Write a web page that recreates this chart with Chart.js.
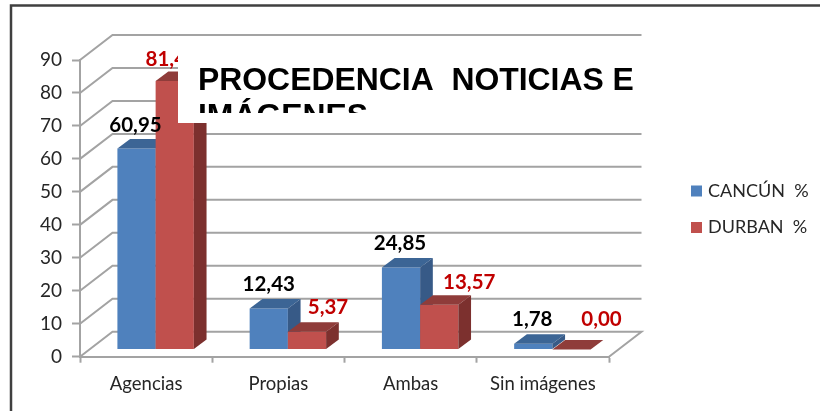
<!DOCTYPE html>
<html>
<head>
<meta charset="utf-8">
<title>Procedencia noticias e imágenes</title>
<script src="https://cdn.jsdelivr.net/npm/chart.js@4"></script>
<style>
html, body { margin: 0; background: #fff; }
#wrap { width: 820px; height: 411px; }
</style>
</head>
<body>
<div id="wrap"><canvas id="chart" width="820" height="411"></canvas></div>
<script>
const categories = ['Agencias', 'Propias', 'Ambas', 'Sin imágenes'];
const cancun = [60.95, 12.43, 24.85, 1.78];
const durban = [81.47, 5.37, 13.57, 0.00];
const titleLines = ['PROCEDENCIA  NOTICIAS E', 'IMÁGENES'];
const yTicks = [0, 10, 20, 30, 40, 50, 60, 70, 80, 90];

// hand nudges of the value labels, as in the original
const labelNudge = [
    [[-1, 1], [0, 0], [-1, 0], [-1, 0]],
    [[-3, 2], [21, 0], [30, 2], [30, -6]]
];

const FONT = 'Lato, "Open Sans", sans-serif';
const GRID = '#a3a3a3';
const DX = 9.5, DY = -7.2;      // bars stand this far behind the front axis
const SIDE_X = 12.7, SIDE_Y = -9.5;
const shades = [
    { top: '#3c6595', side: '#375a87' },
    { top: '#8f3c3a', side: '#7c302e' }
];

function poly(ctx, pts, fill) {
    ctx.beginPath();
    pts.forEach((p, i) => i ? ctx.lineTo(p[0], p[1]) : ctx.moveTo(p[0], p[1]));
    ctx.closePath();
    ctx.fillStyle = fill;
    ctx.fill();
}

const frame3d = {
    id: 'frame3d',
    afterLayout(chart) {
        // legend sits out in the right margin
        const l = chart.legend;
        l.left = 675.4;
        l.right = l.left + l.width;
        l.top = 163.4;
        l.bottom = l.top + l.height;
    },
    beforeDatasetsDraw(chart) {
        const { ctx, scales: { x, y } } = chart;
        const depthX = 32.5, depthY = -25;
        const left = x.left, right = x.right;
        ctx.save();
        ctx.strokeStyle = GRID;
        ctx.lineWidth = 2;
        yTicks.forEach(v => {
            const py = y.getPixelForValue(v);
            ctx.beginPath();
            ctx.moveTo(left, py);
            ctx.lineTo(left + depthX, py + depthY);
            ctx.lineTo(right + depthX, py + depthY);
            if (v === 0) ctx.lineTo(right, py);
            ctx.stroke();
        });
        ctx.restore();
        // left series first so the right bar sits over its side face
        chart.data.datasets.forEach((ds, i) => {
            const meta = chart.getDatasetMeta(i);
            const c = shades[i];
            ctx.save();
            ctx.translate(DX, DY);
            meta.controller.draw();
            meta.data.forEach(b => {
                const l = b.x - b.width / 2, r = b.x + b.width / 2;
                poly(ctx, [[l, b.y], [l + SIDE_X, b.y + SIDE_Y], [r + SIDE_X, b.y + SIDE_Y], [r, b.y]], c.top);
                poly(ctx, [[r, b.y], [r + SIDE_X, b.y + SIDE_Y], [r + SIDE_X, b.base + SIDE_Y], [r, b.base]], c.side);
            });
            ctx.restore();
        });
    },
    beforeDatasetDraw() {
        return false;
    },
    afterDatasetsDraw(chart) {
        const ctx = chart.ctx;
        ctx.save();
        ctx.font = 'bold 20.5px ' + FONT;
        ctx.textAlign = 'center';
        ctx.textBaseline = 'middle';
        chart.data.datasets.forEach((ds, i) => {
            ctx.fillStyle = i ? '#c00000' : '#000';
            chart.getDatasetMeta(i).data.forEach((b, j) => {
                const txt = ds.data[j].toFixed(2).replace('.', ',');
                ctx.fillText(txt, b.x + DX + labelNudge[i][j][0], b.y + DY - 24 + labelNudge[i][j][1]);
            });
        });
        ctx.restore();
    },
    afterDraw(chart) {
        const ctx = chart.ctx;
        ctx.save();
        // page frame
        ctx.strokeStyle = '#404040';
        ctx.lineWidth = 2.5;
        ctx.beginPath();
        ctx.moveTo(11, 411);
        ctx.lineTo(11, 5.5);
        ctx.lineTo(820, 5.5);
        ctx.stroke();
        // title box, text cut off by its own frame
        ctx.fillStyle = '#fff';
        ctx.fillRect(178, 50, 470, 73);
        ctx.beginPath();
        ctx.rect(178, 50, 470, 63);
        ctx.clip();
        ctx.fillStyle = '#000';
        ctx.font = 'bold 31.9px "Liberation Sans", Arial, sans-serif';
        ctx.textBaseline = 'alphabetic';
        titleLines.forEach((t, i) => ctx.fillText(t, 198, 90 + i * 36));
        ctx.restore();
    }
};

new Chart(document.getElementById('chart'), {
    type: 'bar',
    data: {
        labels: categories,
        datasets: [
            { label: 'CANCÚN  %', data: cancun, backgroundColor: '#4f81bd' },
            { label: 'DURBAN  %', data: durban, backgroundColor: '#c0504d' }
        ]
    },
    plugins: [frame3d],
    options: {
        responsive: false,
        animation: false,
        layout: { padding: { top: 60, left: 0, right: 211, bottom: 0 } },
        datasets: { bar: { categoryPercentage: 0.578, barPercentage: 1 } },
        plugins: {
            tooltip: { enabled: false },
            legend: {
                position: 'chartArea',
                align: 'start',
                labels: {
                    font: { family: FONT, size: 18 },
                    color: '#262626',
                    // small box with a thick stroke: keeps the text close to the marker
                    boxWidth: 5,
                    boxHeight: 5,
                    padding: 18.6,
                    generateLabels(chart) {
                        return Chart.defaults.plugins.legend.labels.generateLabels(chart).map(item => ({
                            ...item,
                            lineWidth: 6,
                            strokeStyle: item.fillStyle
                        }));
                    }
                }
            }
        },
        scales: {
            x: {
                afterFit(s) { s.height = 54.3; },
                grid: { drawOnChartArea: false, tickLength: 6, tickColor: GRID, tickWidth: 2 },
                border: { color: GRID, width: 2 },
                ticks: { font: { family: FONT, size: 18.5 }, color: '#262626', padding: 10, maxRotation: 0 }
            },
            y: {
                min: 0,
                max: 90,
                afterFit(s) { s.width = 80; },
                grid: { drawOnChartArea: false, tickLength: 8, tickColor: GRID, tickWidth: 2 },
                border: { color: GRID, width: 2 },
                ticks: { stepSize: 10, font: { family: FONT, size: 19 }, color: '#262626', padding: 10 }
            }
        }
    }
});
</script>
</body>
</html>
